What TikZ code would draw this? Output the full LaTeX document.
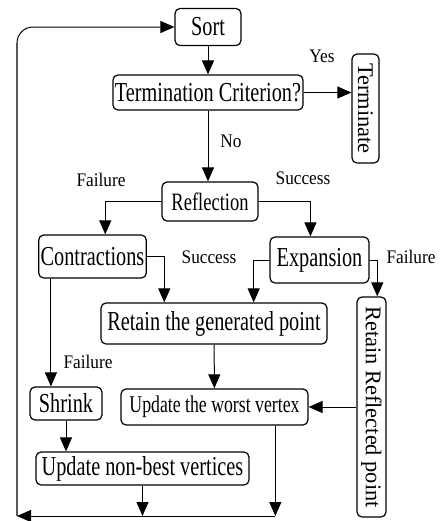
\documentclass[tikz,border=0pt]{standalone}
\usepackage{fontspec}
\setmainfont{Liberation Serif}
\newfontfamily\boxfont[FakeStretch=0.74]{Liberation Serif}
\newfontfamily\lblfont[FakeStretch=0.9]{Liberation Serif}
\usetikzlibrary{arrows.meta}
\tikzset{block/.style={draw, rounded corners=2.5pt, line width=0.6pt, inner sep=1pt, font=\boxfont\fontsize{13.7}{15}\selectfont},
	upright/.style={draw, rounded corners=2.5pt, line width=0.6pt, inner sep=1pt, font=\fontsize{11.2}{13}\selectfont},
	lbl/.style={inner sep=0pt, font=\lblfont\fontsize{9.6}{11}\selectfont},
	flow/.style={-{Triangle[length=7pt,width=6pt]}, line width=0.5pt},
	elbow/.style={to path={-| (\tikztotarget)}}}

\begin{document}
\begin{tikzpicture}[x=0.5pt, y=-0.5pt]
	\useasboundingbox (0,0) rectangle (445,521);
	\node[block, minimum width=33pt, minimum height=18.5pt] (sort) at (208,27) {Sort};
	\node[block, minimum width=95pt, minimum height=17.5pt] (term) at (208,92.5) {Termination Criterion?};
	\node[upright, minimum width=13.5pt, minimum height=54.5pt] (stop) at (365.5,108.5) {\rotatebox{-90}{Terminate}};
	\node[block, minimum width=48pt, minimum height=19.5pt, font=\boxfont\fontsize{12.5}{14}\selectfont] (refl) at (210,201.5) {Reflection};
	\node[block, minimum width=53.5pt, minimum height=21.5pt] (contr) at (92.5,256.5) {Contractions};
	\node[block, minimum width=49.5pt, minimum height=23pt] (expan) at (319.5,260) {Expansion};
	\node[block, minimum width=113pt, minimum height=20.5pt] (keep) at (214,323.5) {Retain the generated point};
	\node[upright, minimum width=14.5pt, minimum height=110pt] (refpt) at (371.5,407) {\rotatebox{-90}{Retain Reflected point}};
	\node[block, minimum width=36pt, minimum height=16.5pt] (shrink) at (66,403.5) {Shrink};
	\node[block, minimum width=93.5pt, minimum height=18pt, font=\boxfont\fontsize{12}{14}\selectfont] (worst) at (214.5,407) {Update the worst vertex};
	\node[block, minimum width=106.5pt, minimum height=16.5pt] (nonbest) at (142.5,468.5) {Update non-best vertices};
	\coordinate (corner) at (17,516);

	\node[lbl] (yes) at (322,56) {Yes};
	\node[lbl] (no) at (231,141) {No};
	\node[lbl] (fail1) at (101,180) {Failure};
	\node[lbl] (succ1) at (303,178) {Success};
	\node[lbl] (succ2) at (209,257) {Success};
	\node[lbl] (fail2) at (411,257) {Failure};
	\node[lbl] (fail3) at (88,362) {Failure};

	\path[flow]
		(sort) edge (term)
		(term.east) edge (term.east -| stop.west)
		(term.south) edge (term.south |- refl.north)
		(refl.west) edge [elbow] (contr.60)
		(refl.east) edge [elbow] (expan.111)
		(contr.east) edge [elbow] (keep.157)
		(expan.west) edge [elbow] (keep.28)
		(expan.east) edge [elbow] (refpt.87)
		(contr.208) edge (contr.208 |- shrink.north)
		(keep) edge (worst)
		(refpt.west |- worst.east) edge (worst.east)
		(shrink.south) edge (shrink.south |- nonbest.north)
		(nonbest.south) edge (nonbest.south |- corner)
		(worst.343) edge (worst.343 |- corner)
		(worst.343 |- corner) edge (corner)
		;
	\draw[flow, rounded corners=8pt] (corner) |- (sort.west);
\end{tikzpicture}
\end{document}
